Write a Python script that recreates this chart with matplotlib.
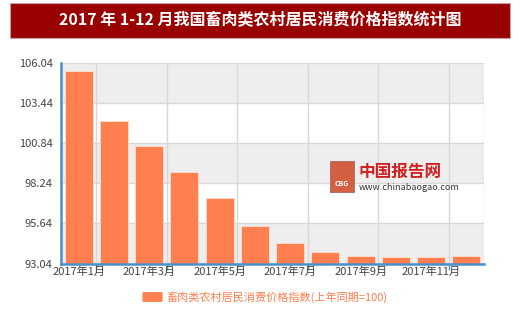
import matplotlib
matplotlib.use("Agg")
import matplotlib.pyplot as plt
from matplotlib.patches import Rectangle, FancyBboxPatch

plt.rcParams['font.family'] = ['Noto Sans CJK SC', 'DejaVu Sans']

months = ["2017年1月", "2017年2月", "2017年3月", "2017年4月", "2017年5月", "2017年6月",
          "2017年7月", "2017年8月", "2017年9月", "2017年10月", "2017年11月", "2017年12月"]
values = [105.48, 102.29, 100.67, 98.98, 97.31, 95.49, 94.39, 93.80, 93.53, 93.44, 93.44, 93.55]
yticks = [93.04, 95.64, 98.24, 100.84, 103.44, 106.04]
title = "2017 年 1-12 月我国畜肉类农村居民消费价格指数统计图"
legend_label = "畜肉类农村居民消费价格指数(上年同期=100)"

fig = plt.figure(figsize=(5.2, 3.12), dpi=100)
fig.patch.set_facecolor('white')

# title bar
fig.patches.append(Rectangle((10/520, 1-38/312), 500/520, 35/312, transform=fig.transFigure,
                             facecolor='#990000', edgecolor='#c8a0a0', lw=0.8))
fig.text(0.5, 1-20.5/312, title, color='white', fontsize=11.5, fontweight='bold',
         ha='center', va='center')

ax = fig.add_axes([61/520, 1-263.5/312, 423/520, 200.8/312])
x = list(range(len(months)))
ax.set_xlim(-0.5, len(months) - 0.5)
ax.set_ylim(yticks[0], yticks[-1])

# alternating bands
for i in range(len(yticks) - 1):
    if i % 2 == 0:
        ax.axhspan(yticks[i], yticks[i+1], color='#eeeeee', zorder=0, lw=0)
for yt in yticks[1:-1]:
    ax.axhline(yt, color='#d8d8d8', lw=1, zorder=1)
ax.axhline(yticks[-1], color='#d8d8d8', lw=1, zorder=1)

bounds = [i + 0.5 for i in range(0, len(months) - 1, 2)]
for b in bounds:
    ax.axvline(b, color='#d8d8d8', lw=1, zorder=1)
ax.axvline(len(months) - 0.5, color='#d8d8d8', lw=1, zorder=1)

ax.bar(x, [v - yticks[0] for v in values], bottom=yticks[0], width=0.8,
       color='#ff7f50', edgecolor='#ffe0d0', linewidth=0.6, zorder=3)

for s in ['top', 'right']:
    ax.spines[s].set_visible(False)
ax.spines['left'].set_color('#4a90c8')
ax.spines['bottom'].set_color('#4a90c8')
ax.spines['left'].set_linewidth(1.8)
ax.spines['bottom'].set_linewidth(1.8)
ax.spines['left'].set_zorder(5)
ax.spines['bottom'].set_zorder(5)

ax.set_yticks(yticks)
ax.set_yticklabels([f"{v:.2f}" for v in yticks], color='#444444', fontsize=8)
ax.tick_params(axis='y', length=0, pad=6)

ax.set_xticks(bounds)
ax.set_xticklabels([])
ax.tick_params(axis='x', which='major', length=4, color='#4a90c8', width=1)
ax.set_xticks(x[::2], minor=True)
ax.set_xticklabels(months[::2], minor=True, color='#444444', fontsize=8)
ax.tick_params(axis='x', which='minor', length=0, pad=2)

# watermark
fig.patches.append(Rectangle((330/520, 1-192/312), 24/520, 31/312, transform=fig.transFigure,
                             facecolor='#d05030', edgecolor='#a06060', lw=0.6, zorder=6, alpha=0.9))
fig.text(337/520 + 5/520, 1-183/312, "CBG", color='white', fontsize=5, ha='center', va='center',
         fontweight='bold', zorder=7)
fig.text(359/520, 1-172/312, "中国报告网", color='#d02020', fontsize=12, fontweight='bold',
         ha='left', va='center', zorder=7)
fig.text(359/520, 1-188/312, "www.chinabaogao.com", color='#333333', fontsize=6.5,
         ha='left', va='center', zorder=7)

# legend
fig.patches.append(FancyBboxPatch((144/520, 1-301/312), 17/520, 8/312,
                                  boxstyle='round,pad=0.003', transform=fig.transFigure,
                                  facecolor='#ff7f50', edgecolor='none'))
fig.text(166/520, 1-297/312, legend_label, color='#ff7f50', fontsize=8, ha='left', va='center')

fig.savefig('out.png', dpi=100)
